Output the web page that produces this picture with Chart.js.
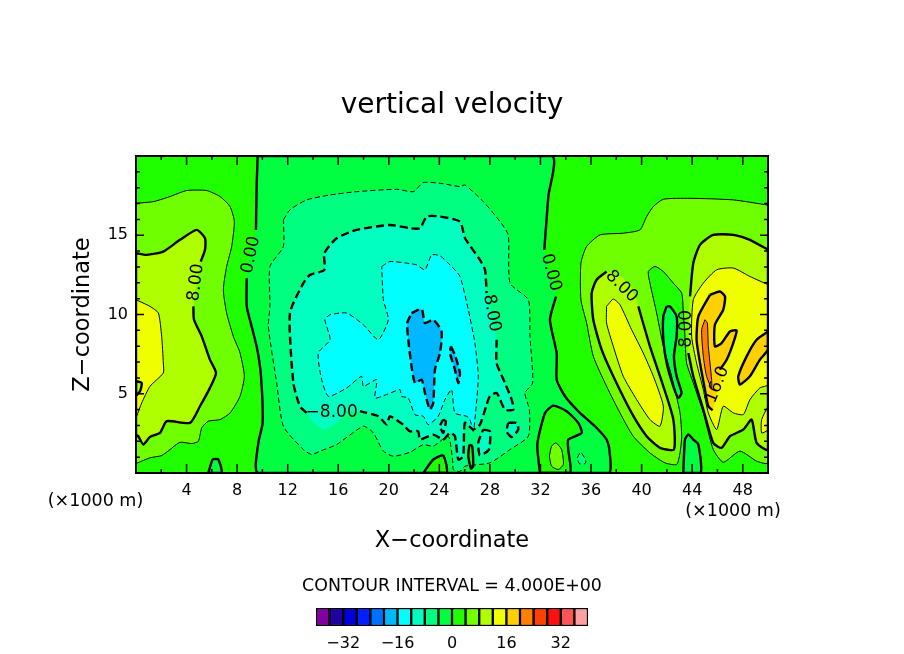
<!DOCTYPE html>
<html>
<head>
<meta charset="utf-8">
<title>vertical velocity</title>
<script src="https://cdn.jsdelivr.net/npm/chart.js@4"></script>
<style>
  html, body { margin: 0; padding: 0; background: #fff; }
  #wrap { position: relative; width: 904px; height: 654px; overflow: hidden; }
  #field { position: absolute; left: 0; top: 0; }
  #scale { position: absolute; left: 0; top: 570px; }
</style>
</head>
<body>
<div id="wrap">
  <canvas id="field" width="904" height="654"></canvas>
  <canvas id="scale" width="904" height="84"></canvas>
</div>
<script>
// Colour bar: one box per 4 units, from -40 to 40
const bandStarts = [-40, -36, -32, -28, -24, -20, -16, -12, -8, -4, 0, 4, 8, 12, 16, 20, 24, 28, 32, 36];
const bandColors = ["#8000a0", "#2000a0", "#0000d8", "#0020ff", "#0070ff", "#00b8ff", "#00ffff", "#00ffc0", "#00ff80", "#00ff40",
  "#20ff00", "#70ff00", "#b0ff00", "#f0ff00", "#ffd000", "#ff8000", "#ff4000", "#ff1010", "#ff5555", "#ffa0a0"];
const bandTicks = [-32, -16, 0, 16, 32];

// Axis ticks (x1000 m for x)
const xLongTicks = [4, 8, 12, 16, 20, 24, 28, 32, 36, 40, 44, 48];
const xShortTicks = [2, 6, 10, 14, 18, 22, 26, 30, 34, 38, 42, 46];
const yLongTicks = [5, 10, 15];
const yShortTicks = [1, 2, 3, 4, 6, 7, 8, 9, 11, 12, 13, 14, 16, 17, 18, 19];

// Contours as [x, z]; null is a break in the line for a label
const wholeField = [[0, 0], [50, 0], [50, 20], [0, 20]];

const leftFour = [[0, 17.02], [1.37, 17.12], [2.69, 17.44], [4.01, 17.82], [5.59, 17.82], [6.65, 17.44], [7.44, 16.81], [7.78, 15.86],
  [7.57, 14.29], [7.17, 13.03], [6.91, 11.56], [7.17, 10.09], [7.7, 8.62], [8.23, 7.57], [8.57, 6.1], [8.23, 4.84], [7.44, 3.79],
  [6.65, 3.37], [5.72, 3.27], [5.2, 2.85], [4.93, 2], [4.4, 1.86], [3.48, 1.94], [2.69, 1.48], [2.03, 1.1], [1.11, 0.96], [0.45, 0.75], [0, 0.64]];
const leftEight = [[0, 13.87], [0.84, 13.76], [2.16, 13.97], [3.48, 14.71], [4.8, 15.34], [5.46, 14.81], [5.46, 14.08], [5.12, 13.34], null,
  [4.54, 10.51], [4.59, 9.67], [5.2, 8.62], [5.85, 7.15], [6.33, 6.31], [5.85, 5.37], [5.06, 4.21], [4.27, 3.16], [2.43, 3.27],
  [1.9, 2.53], [1.11, 2.28], [0.58, 1.8], [0.18, 2.32], [0, 2.43]];
const leftTwelve = [[0, 10.93], [1.11, 10.51], [1.77, 10.09], [2.03, 8.62], [2.16, 6.94], [2.16, 6.31], [1.11, 5.47], [0.45, 4.42], [0.05, 3.58], [0, 3.5]];
const leftNotch = [[0, 5.8], [0.45, 5.68], [0.32, 5.15], [0, 4.9]];
const leftFoot = [[5.72, 0], [6.07, 0.85], [6.51, 0.85], [6.78, 0]];

const midZero = [[9.63, 20], [9.55, 18.28], [9.49, 15.34], null, [8.76, 12.29], [8.76, 10.51], [9.15, 9.25], [9.6, 7.78], [9.89, 6.1],
  [10.02, 3.16], [9.68, 1.9], [9.68, 0], [37.37, 0], [37.45, 1.48], [37.23, 2.11], [36.31, 2.95], [35.12, 3.79], [33.94, 4.84],
  [33.28, 5.89], [33.28, 7.57], [32.75, 9.67], [33.23, 11.14], null, [32.3, 14.08], [32.62, 17.44], [32.88, 20]];
const midMinusFour = [[11.66, 15.97], [12.18, 16.6], [13.5, 17.23], [15.35, 17.54], [17.46, 17.75], [20.62, 17.9], [21.94, 17.75],
  [22.73, 18.32], [24.05, 18.28], [25.63, 18.07], [26.03, 18.17], [27.48, 17.12], [28.8, 15.86], [29.45, 15.02], [29.59, 11.98],
  [31.04, 10.93], [31.17, 8.62], [31.38, 5.68], [30.77, 5.05], [31.12, 4], [31.04, 2.32], [29.59, 1.48], [28, 0.64], [26.03, 0.43],
  [25.63, 0.1], [25.1, 0.22], [25.07, 0.64], [24.7, 2.32], [23.52, 1.69], [22.73, 1.79], [21.67, 1.31], [20.36, 1.06], [19.57, 1.38],
  [18.78, 2.53], [17.99, 2.95], [15.88, 1.8], [14.56, 1.38], [13.9, 1.17], [13.24, 1.48], [11.66, 2.95], [11.13, 5.68], [10.47, 9.25],
  [10.6, 10.51], [10.6, 13.03], [11.66, 14.29]];
const midMinusEight = [[13.5, 3.79], [12.97, 4.21], [12.45, 5.68], [12.18, 10.09], [13.24, 11.98], [13.77, 12.5], [14.9, 12.82], [14.9, 13.87],
  [15.88, 14.81], [17.46, 15.34], [20.09, 15.65], [21.68, 15.44], [22.47, 15.44], [23, 16.18], [24.05, 16.18], [25.63, 15.86], [26.03, 14.81],
  [27.21, 13.45], [27.61, 12.82], [27.74, 11.35], null, [28.53, 8.41], [28.53, 6.94], [29.19, 5.68], [29.72, 4.63], [29.85, 4], [29.19, 4],
  [28.53, 5.05], [28, 4.84], [27.74, 4.31], [27.21, 3.05], [26.68, 2.74], [26.02, 3.16], [25.89, 1.06], [25.5, 0.85], [25.23, 2.32],
  [24.84, 2.53], [24.31, 2.11], [23.52, 2.42], [22.46, 2.11], [22.33, 2.63], [21.67, 2.63], [21.14, 3.05], [20.09, 3.58], [19.83, 3.06],
  [19.17, 3.58], [17.72, 3.9], null];
const labelBulge = [[13.5, 3.79], [14.0, 3.2], [14.9, 2.75], [15.9, 3.2], [16.6, 3.8], [15, 4]];
const loopEastA = [[29.45, 3.16], [30.11, 3.16], [30.24, 2.74], [29.72, 2.27], [29.32, 2.63]];
const loopEastB = [[27.47, 2.74], [28, 2.63], [27.92, 1.48], [27.21, 1.12], [27.08, 1.92]];
const loopFringe = [[24.31, 3.37], [24.52, 3.26], [24.31, 2.53], [24.05, 2.95]];
const midMinusTwelve = [[19.44, 13.03], [20.09, 13.34], [21.41, 13.24], [22.2, 13.13], [22.86, 12.82], [23.39, 13.76], [24.05, 13.7],
  [24.97, 13.03], [25.63, 12.4], [26.29, 10.3], [26.81, 8.2], [27.08, 6.1], [26.89, 4], [26.68, 2.63], [26.42, 3.37], [26.16, 3.58],
  [25.23, 3.79], [24.97, 5.26], [24.44, 4.63], [23.91, 3.58], [23.12, 3.05], [22.73, 3.58], [22.07, 3.68], [21.54, 4.73], [21, 4.84],
  [20.89, 5.26], [19.83, 4.95], [18.91, 4.74], [19.04, 5.89], [17.99, 5.47], [17.85, 6.1], [16.67, 5.37], [15.22, 4.84], [14.69, 5.89],
  [14.42, 7.57], [15.35, 8.41], [14.95, 9.67], [15.35, 9.98], [16.67, 10.09], [17.99, 9.35], [19.17, 8.41], [19.96, 9.67], [19.57, 10.93]];
const midMinusSixteen = [[21.8, 10.09], [22.6, 10.34], [22.86, 9.46], [23.52, 9.67], [24.18, 8.93], [24.05, 7.57], [23.65, 6.52], [23.52, 4.42],
  [23.25, 4], [22.86, 5.05], [22.6, 5.89], [22.07, 5.68], [21.8, 6.73], [21.54, 8.41], [21.46, 9.46]];
const midSliver = [[24.92, 7.99], [25.23, 7.46], [25.63, 6.31], [25.5, 5.68], [25.23, 6.52], [24.84, 7.57]];
const footWest = [[22.73, 0], [23.52, 0.85], [24.31, 1.1], [24.57, 0]];
const footSliver = [[26.37, 1.79], [26.6, 1.69], [26.68, 0.43], [26.5, 0.28], [26.29, 1.06]];

const moundZero = [[31.96, 0], [31.75, 1.8], [32.36, 3.79], [33.02, 4.25], [34.07, 3.9], [34.99, 3.16], [35.26, 2.53], [34.2, 2.11], [34.2, 1.48], [34.33, 0]];
const moundFour = [[32.7, 1.06], [32.88, 1.69], [33.23, 1.9], [33.67, 1.48], [33.81, 0.54], [33.41, 0.22], [32.88, 0.43]];
const moundSpeck = [[34.91, 0.96], [35.18, 1.31], [35.6, 0.75], [35.44, 0.54], [35.07, 0.6]];

const rightFour = [[50, 16.9], [47.26, 17.23], [43.83, 17.33], [41.72, 17.27], [40.93, 16.81], [40.4, 16.18], [39.87, 15.34], [38.55, 15.13],
  [36.71, 15.02], [35.65, 14.29], [35.2, 13.24], [35.2, 10.93], [35.65, 9.46], [36.18, 7.36], [37.23, 5.47], [38.29, 3.79], [39.34, 2.32],
  [40.66, 1.27], [41.85, 0.64], [42.77, 0.54], [43.04, 1.27], [43.17, 2.32], [43.04, 3.79], [42.38, 6.1], [41.72, 7.99], [41.19, 10.09],
  [40.66, 11.98], [40.53, 12.71], [41.06, 13.03], [41.72, 12.71], [42.51, 11.98], [43.17, 11.35], [43.3, 10.09], [43.43, 8.62], [43.56, 6.94],
  [44.09, 5.68], [44.88, 3.79], [45.67, 1.48], [46.46, 0.68], [47.78, 1.38], [49.1, 0.75], [50, 0.64]];
const tongueZero = [[41.98, 10.51], [42.24, 10.51], [42.77, 9.88], [42.77, 8.62], [42.56, 7.36], [42.77, 6.1], [43.17, 5.05], [42.9, 4.74],
  [42.51, 5.47], [41.98, 6.94], [41.72, 8.41], [41.72, 9.88]];
const rightFoot = [[43.3, 0], [43.43, 2.11], [43.7, 2.43], [44.09, 2.11], [44.49, 1.8], [44.67, 0]];
const lobeEight = [[37.23, 12.71], null, [39.74, 10.51], [40.66, 7.99], [41.72, 5.47], [42.51, 3.37], [42.56, 1.48], [41.45, 1.59], [40.4, 2.32],
  [39.21, 3.79], [37.76, 6.1], [36.84, 7.78], [36.18, 9.67], [36.05, 11.35], [36.44, 12.19]];
const lobeBulge = [[37.23, 12.71], [37.76, 12.61], [38.55, 12.29], [39.21, 11.66], [39.74, 10.51]];
const lobeTwelve = [[37.23, 10.51], [37.76, 10.97], [38.29, 10.61], [39.21, 9.04], [40.13, 7.57], [40.93, 6.1], [41.72, 4.21], [41.45, 2.95],
  [40.66, 3.37], [39.61, 4.63], [38.55, 6.1], [37.76, 7.99], [37.23, 9.46]];
const rightEight = [[50, 14.08], [48.57, 14.71], [47.26, 15.02], [45.67, 15.02], [44.62, 14.39], [44.09, 13.24], [43.83, 11.14], null,
  [43.7, 7.57], [44.09, 6.1], [44.88, 4], [45.67, 1.9], [46.33, 1.59], [46.99, 2.32], [48.05, 2.74], [48.71, 3.37], [49.1, 1.9], [50, 1.48]];
const rightTwelve = [[50, 11.88], [48.57, 12.4], [47.26, 12.93], [45.94, 12.82], [44.88, 11.98], [44.09, 10.93], [43.96, 8.62], [44.35, 6.94],
  [44.88, 5.26], [45.28, 3.79], [45.94, 2.74], [46.46, 4.21], [47.26, 3.79], [48.05, 3.69], [48.57, 4.63], [49.36, 5.37], [50, 5.58]];
const edgeTwelve = [[50, 4.21], [49.5, 3.37], [49.5, 2.53], [50, 2.74]];
const coreSixteen = [[45.41, 11.24], [46.2, 11.45], [46.6, 11.14], [46.46, 10.3], [45.8, 9.35], [45.8, 7.99], [46.33, 8.2], [46.99, 8.93],
  [47.52, 8.99], [47.25, 8.2], [46.73, 7.15], [46.2, 6.52], null, [45.62, 3.95], [45.28, 4.21], [45.01, 5.26], [44.62, 6.94], [44.35, 8.41], [44.49, 9.88]];
const coreBulge = [[46.2, 6.52], [46.33, 6.1], [45.94, 5.05], [45.72, 4.21], [45.62, 3.95]];
const coreTwenty = [[45.01, 9.67], [45.2, 9.46], [45.28, 7.99], [45.54, 5.89], [45.54, 5.36], [45.14, 6.1], [44.88, 7.36], [44.75, 9.04]];
const edgeSixteen = [[50, 8.93], [49.1, 8.41], [48.31, 7.36], [47.65, 6.1], [47.78, 5.58], [48.57, 6.1], [49.36, 7.15], [50, 7.78]];

// Labels set in the breaks of the contour lines
const labelTexts = ["8.00", "0.00", "\u22128.00", "8.00", "0.00", "8.00", "8.00", "16.0"];
const labelX = [4.75, 9.1, 15.48, 28.14, 32.83, 38.42, 43.56, 46.0];
const labelZ = [12.02, 13.76, 3.79, 10.09, 12.65, 11.77, 9.1, 5.57];
const labelAngles = [-83, -78, 0, 80, 75, 45, -90, -68];

const FONT = "'DejaVu Sans', sans-serif";

// points, contour level, band the region is painted with (null level draws no line)
const contours = [
  [wholeField, null, 0],
  [leftFour, 4, 4], [leftEight, 8, 8], [leftTwelve, 12, 12], [leftNotch, 8, 8], [leftFoot, 0, -4],
  [midZero, 0, -4], [midMinusFour, -4, -8], [midMinusEight, -8, -12], [labelBulge, null, -12],
  [loopEastA, -8, -12], [loopEastB, -8, -12], [loopFringe, -8, -12], [midMinusTwelve, -12, -16], [midMinusSixteen, -16, -20], [midSliver, -16, -20],
  [footWest, 0, 0], [footSliver, 0, 0], [moundZero, 0, 0], [moundFour, 4, 4], [moundSpeck, -4, -8],
  [rightFour, 4, 4], [tongueZero, 0, -4], [rightFoot, 0, -4], [lobeEight, 8, 8], [lobeBulge, null, 8], [lobeTwelve, 12, 12],
  [rightEight, 8, 8], [rightTwelve, 12, 12], [edgeTwelve, 12, 12], [coreSixteen, 16, 16], [coreBulge, null, 16], [coreTwenty, 20, 20], [edgeSixteen, 16, 16]
];

function toPoints(list) {
  return list.map((p) => (p ? { x: p[0], y: p[1] } : { x: NaN, y: NaN }));
}

const datasets = [];
contours.forEach(([pts, level, band]) => {
  const solid = pts.filter(Boolean);
  datasets.push({
    data: toPoints(solid.concat([solid[0]])),
    showLine: true,
    pointRadius: 0,
    borderWidth: 0,
    tension: pts === wholeField ? 0 : 0.2,
    backgroundColor: bandColors[bandStarts.indexOf(band)],
    fill: "shape"
  });
});
contours.forEach(([pts, level]) => {
  if (level === null) return;
  const thick = level % 8 === 0;
  datasets.push({
    data: toPoints(pts.concat([pts[0]])),
    showLine: true,
    pointRadius: 0,
    tension: 0.2,
    fill: false,
    borderColor: "#000",
    borderWidth: thick ? 2.4 : 1,
    borderDash: level < 0 ? (thick ? [8, 4] : [5, 3]) : []
  });
});
// later entries sit on top
datasets.forEach((d, i) => { d.order = datasets.length - i; });

// Frame, inward ticks, contour labels and the two unit notes
const framePlugin = {
  id: "frame",
  afterDatasetsDraw(chart) {
    const { ctx, chartArea: a, scales: { x, y } } = chart;
    ctx.save();
    ctx.strokeStyle = "#000";
    ctx.lineWidth = 1.5;
    const xMark = (v, len) => {
      const px = x.getPixelForValue(v);
      ctx.beginPath();
      ctx.moveTo(px, a.bottom); ctx.lineTo(px, a.bottom - len);
      ctx.moveTo(px, a.top); ctx.lineTo(px, a.top + len);
      ctx.stroke();
    };
    const yMark = (v, len) => {
      const py = y.getPixelForValue(v);
      ctx.beginPath();
      ctx.moveTo(a.left, py); ctx.lineTo(a.left + len, py);
      ctx.moveTo(a.right, py); ctx.lineTo(a.right - len, py);
      ctx.stroke();
    };
    xLongTicks.forEach((v) => xMark(v, 9));
    xShortTicks.forEach((v) => xMark(v, 4));
    yLongTicks.forEach((v) => yMark(v, 8));
    yShortTicks.forEach((v) => yMark(v, 4));
    ctx.lineWidth = 2;
    ctx.strokeRect(a.left, a.top, a.right - a.left, a.bottom - a.top);

    ctx.fillStyle = "#000";
    ctx.font = "17px " + FONT;
    ctx.textAlign = "center";
    ctx.textBaseline = "middle";
    labelTexts.forEach((t, i) => {
      ctx.save();
      ctx.translate(x.getPixelForValue(labelX[i]), y.getPixelForValue(labelZ[i]));
      ctx.rotate(labelAngles[i] * Math.PI / 180);
      ctx.fillText(t, 0, 0);
      ctx.restore();
    });
    ctx.font = "17.5px " + FONT;
    ctx.fillText("(\u00d71000 m)", 95.5, 501);
    ctx.fillText("(\u00d71000 m)", 733, 511);
    ctx.restore();
  }
};

new Chart(document.getElementById("field"), {
  type: "scatter",
  data: { datasets },
  plugins: [framePlugin],
  options: {
    responsive: false,
    animation: false,
    events: [],
    layout: { padding: 0 },
    plugins: {
      legend: { display: false },
      tooltip: { enabled: false },
      title: {
        display: true,
        text: "vertical velocity",
        color: "#000",
        font: { family: FONT, size: 28, weight: "normal", lineHeight: 1.2 },
        padding: { top: 89, bottom: 33.4 }
      }
    },
    scales: {
      x: {
        type: "linear",
        min: 0,
        max: 50,
        grid: { display: false },
        border: { display: false },
        afterBuildTicks: (s) => { s.ticks = xLongTicks.map((value) => ({ value })); },
        afterFit: (s) => { s.height = 181; },
        ticks: {
          autoSkip: false,
          maxRotation: 0,
          color: "#000",
          padding: 0,
          font: { family: FONT, size: 16 }
        },
        title: {
          display: true,
          text: "X\u2212coordinate",
          color: "#000",
          font: { family: FONT, size: 22.5, lineHeight: 1.2 },
          padding: { top: 0, bottom: 99 }
        }
      },
      y: {
        type: "linear",
        min: 0,
        max: 20,
        grid: { display: false },
        border: { display: false },
        afterBuildTicks: (s) => { s.ticks = yLongTicks.map((value) => ({ value })); },
        afterFit: (s) => { s.width = 136; },
        ticks: {
          autoSkip: false,
          color: "#000",
          padding: 0,
          font: { family: FONT, size: 16 }
        },
        title: {
          display: true,
          text: "Z\u2212coordinate",
          color: "#000",
          font: { family: FONT, size: 22.5, lineHeight: 1.2 },
          padding: { top: 70, bottom: 0 }
        }
      },
      y2: {
        position: "right",
        display: true,
        grid: { display: false },
        border: { display: false },
        ticks: { display: false },
        afterFit: (s) => { s.width = 136; }
      }
    }
  }
});

// Colour bar underneath, one floating bar per band
new Chart(document.getElementById("scale"), {
  type: "bar",
  data: {
    labels: [""],
    datasets: bandStarts.map((lo, i) => ({
      data: [[lo, lo + 4]],
      backgroundColor: bandColors[i],
      borderColor: "#000",
      borderWidth: 1.5,
      borderSkipped: false,
      grouped: false,
      barPercentage: 1,
      categoryPercentage: 1
    }))
  },
  options: {
    indexAxis: "y",
    responsive: false,
    animation: false,
    events: [],
    layout: { padding: 0 },
    plugins: {
      legend: { display: false },
      tooltip: { enabled: false },
      title: {
        display: true,
        text: "CONTOUR INTERVAL = 4.000E+00",
        color: "#000",
        font: { family: FONT, size: 17.4, weight: "normal", lineHeight: 1.2 },
        padding: { top: 6, bottom: 11.1 }
      }
    },
    scales: {
      x: {
        type: "linear",
        min: -40,
        max: 40,
        grid: { display: false },
        border: { display: false },
        afterBuildTicks: (s) => { s.ticks = bandTicks.map((value) => ({ value })); },
        afterFit: (s) => { s.height = 28; },
        ticks: {
          maxRotation: 0,
          color: "#000",
          padding: 0,
          font: { family: FONT, size: 16 },
          callback: (v) => (v < 0 ? "\u2212" + Math.abs(v) : v)
        }
      },
      y: {
        grid: { display: false },
        border: { display: false },
        ticks: { display: false },
        afterFit: (s) => { s.width = 316; }
      },
      yEnd: {
        type: "category",
        position: "right",
        grid: { display: false },
        border: { display: false },
        ticks: { display: false },
        afterFit: (s) => { s.width = 316; }
      }
    }
  }
});
</script>
</body>
</html>
